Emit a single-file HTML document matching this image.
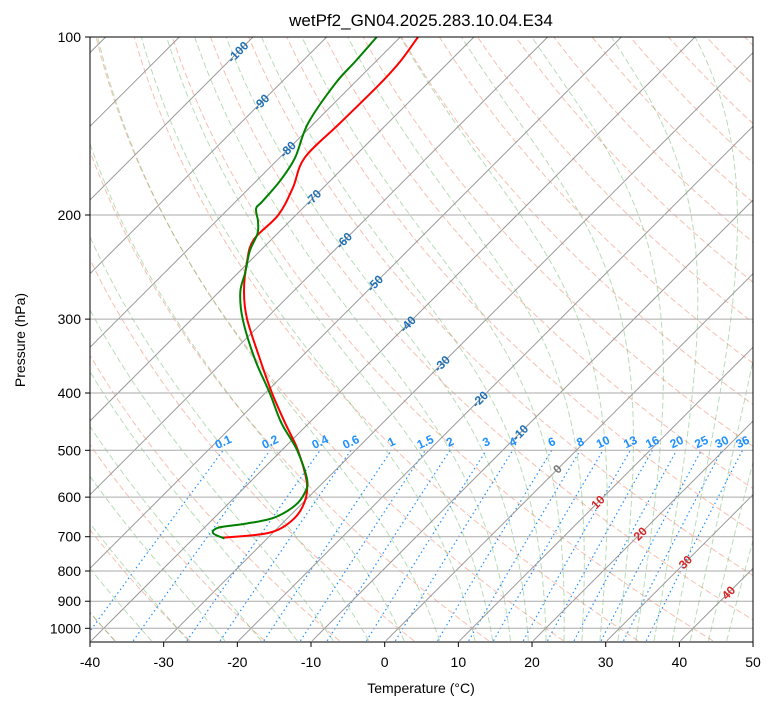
<!DOCTYPE html>
<html><head><meta charset="utf-8"><style>
body{margin:0;background:#fff;}
svg text{font-family:"Liberation Sans","DejaVu Sans",sans-serif;}
</style></head><body>
<svg id="chart" width="775" height="708" viewBox="0 0 775 708" xmlns="http://www.w3.org/2000/svg">
<defs><clipPath id="plotclip"><rect x="90" y="37" width="663" height="605"/></clipPath></defs>
<text x="421" y="26" text-anchor="middle" font-size="17">wetPf2_GN04.2025.283.10.04.E34</text>
<g id="bg" clip-path="url(#plotclip)"></g>
<g id="series" clip-path="url(#plotclip)"></g>
<g id="labels"></g>
<rect x="90" y="37" width="663" height="605" fill="none" stroke="#000" stroke-width="1"/>
<g id="axes"></g>
<text x="421" y="693" text-anchor="middle" font-size="14">Temperature (°C)</text>
<text x="25" y="340" text-anchor="middle" font-size="14" transform="rotate(-90 25 340)">Pressure (hPa)</text>
</svg>
<script>
const tempP=[703,690,660,620,570,500,450,400,350,300,270,240,220,200,180,160,140,120,110,100];
const tempT=[-36.2,-30.6,-29.1,-29.6,-32,-37.8,-43.2,-49.1,-55.4,-62.5,-66.6,-70.3,-72.4,-72.4,-74.1,-76.6,-76.5,-76.4,-76.7,-77.6];
const dewP=[705,690,675,665,650,620,590,560,500,450,400,350,300,270,250,230,215,205,195,190,175,160,140,120,110,100];
const dewT=[-35.8,-38.1,-38.0,-34.8,-31.9,-30.7,-31.1,-32.6,-37.9,-43.7,-49.4,-56.1,-63.1,-67.1,-69.1,-71.4,-72.7,-74.3,-76.3,-76.4,-76.8,-77.9,-80.8,-82.5,-82.8,-83.2];
const xTicks=[-40,-30,-20,-10,0,10,20,30,40,50];
const pTicks=[100,200,300,400,500,600,700,800,900,1000];
const isoLabelT=[-100,-90,-80,-70,-60,-50,-40,-30,-20,-10,0,10,20,30,40];
const isoLabelP=[106,129,155,187,221,261,306,357,410,467,538,612,692,773,871];
const mixW=[0.1,0.2,0.4,0.6,1,1.5,2,3,4,6,8,10,13,16,20,25,30,36];
const dryT0=[-40,-30,-20,-10,0,10,20,30,40,50,60,70,80,90,100,110,120,130,140,150,160,170,180,190,200];
const moistT0=[-40,-35,-30,-25,-20,-15,-10,-5,0,5,10,12.5,15,17.5,20,22.5,25,27.5,30,32.5,35,37.5,40,42.5,45];

const NS='http://www.w3.org/2000/svg';
const yOf=p=>37+256.8*Math.log(p/100);
const xOf=(T,p)=>90+(T+40)*7.367+(642-yOf(p));
function mk(tag,attrs,parent){const e=document.createElementNS(NS,tag);for(const k in attrs)e.setAttribute(k,attrs[k]);parent.appendChild(e);return e;}
const bg=document.getElementById('bg'),ser=document.getElementById('series'),lab=document.getElementById('labels'),ax=document.getElementById('axes');
function pathFrom(pts){return pts.map((q,i)=>(i?'L':'M')+q[0].toFixed(1)+' '+q[1].toFixed(1)).join('');}
function smoothPath(pts){let d='M'+pts[0][0].toFixed(1)+' '+pts[0][1].toFixed(1);
 for(let i=0;i<pts.length-1;i++){const p0=pts[Math.max(0,i-1)],p1=pts[i],p2=pts[i+1],p3=pts[Math.min(pts.length-1,i+2)];
  const c1=[p1[0]+(p2[0]-p0[0])/6,p1[1]+(p2[1]-p0[1])/6],c2=[p2[0]-(p3[0]-p1[0])/6,p2[1]-(p3[1]-p1[1])/6];
  d+='C'+c1[0].toFixed(1)+' '+c1[1].toFixed(1)+' '+c2[0].toFixed(1)+' '+c2[1].toFixed(1)+' '+p2[0].toFixed(1)+' '+p2[1].toFixed(1);}
 return d;}

dryT0.forEach(t0=>{const pts=[];for(let p=1050;p>=100;p-=10){pts.push([xOf((t0+273.15)*Math.pow(p/1000,0.2857)-273.15,p),yOf(p)]);}
 const e=mk('path',{d:pathFrom(pts),fill:'none',stroke:'#f08060','stroke-opacity':'0.5','stroke-width':'1','stroke-dasharray':'6 3'},bg);
 
 });
function dTdp(T,p){const Tc=T-273.15;const es=6.112*Math.exp(17.67*Tc/(Tc+243.5));const rs=0.622*es/(p-es);
 return (287.04*T+2.501e6*rs)/(p*(1005.7+2.501e6*2.501e6*rs*0.622/(287.04*T*T)));}
moistT0.forEach(t0=>{let T=t0+273.15;const up=[];let p=1000;up.push([p,T]);
 while(p>100){const dp=-2;T+=dTdp(T,p)*dp;p+=dp;up.push([p,T]);}
 T=t0+273.15;p=1000;const dn=[];while(p<1050){const dp=2;T+=dTdp(T,p)*dp;p+=dp;dn.push([p,T]);}
 const all=dn.reverse().concat(up);const pts=all.map(a=>[xOf(a[1]-273.15,a[0]),yOf(a[0])]);
 const e=mk('path',{d:pathFrom(pts),fill:'none',stroke:'#4aa84a','stroke-opacity':'0.4','stroke-width':'1','stroke-dasharray':'6 3'},bg);
 
 });
function tdOf(w,p){const e=w*p/(622+w);const l=Math.log(e/6.112);return 243.5*l/(17.67-l);}
mixW.forEach(w=>{const pts=[];for(let p=1050;p>=500;p-=10)pts.push([xOf(tdOf(w,p),p),yOf(p)]);
 const e=mk('path',{d:pathFrom(pts),fill:'none',stroke:'#1e90ff','stroke-width':'1.2','stroke-dasharray':'1.5 3'},bg);
 
 
 const x=xOf(tdOf(w,500),500);
 const t=mk('text',{x:x.toFixed(1),y:'446',fill:'#1e90ff','font-size':'12','font-weight':'bold','text-anchor':'middle',transform:'rotate(-25 '+x.toFixed(1)+' 442)'},lab);
 t.textContent=String(w);
 
 });
for(let T=-160;T<=50;T+=10){const e=mk('line',{x1:xOf(T,1050),y1:yOf(1050),x2:xOf(T,100),y2:yOf(100),stroke:'#999','stroke-width':'1'},bg);
 
 }
pTicks.forEach(p=>{const e=mk('line',{x1:90,x2:753,y1:yOf(p),y2:yOf(p),stroke:'#aaa','stroke-width':'1'},bg);
 
 });
isoLabelT.forEach((T,i)=>{const p=isoLabelP[i];const x=xOf(T,p),y=yOf(p);
 const col=T<0?'#1f6fb4':(T===0?'#777':'#d62728');
 const t=mk('text',{x:x.toFixed(1),y:(y+4).toFixed(1),fill:col,'font-size':'12','font-weight':'bold','text-anchor':'middle',transform:'rotate(-45 '+x.toFixed(1)+' '+y.toFixed(1)+')'},lab);
 t.textContent=String(T);
 
 });
const tp=mk('path',{d:smoothPath(tempP.map((p,i)=>[xOf(tempT[i],p),yOf(p)])),fill:'none',stroke:'#ff0000','stroke-width':'2','stroke-linejoin':'round'},ser);


const dp=mk('path',{d:smoothPath(dewP.map((p,i)=>[xOf(dewT[i],p),yOf(p)])),fill:'none',stroke:'#008000','stroke-width':'2','stroke-linejoin':'round'},ser);


xTicks.forEach(T=>{const x=90+(T+40)*7.367;
 mk('line',{x1:x,x2:x,y1:642,y2:647,stroke:'#000'},ax);
 const t=mk('text',{x:x,y:'667','font-size':'14','text-anchor':'middle'},ax);t.textContent=String(T);
 
 });
pTicks.forEach(p=>{const y=yOf(p);
 mk('line',{x1:85,x2:90,y1:y,y2:y,stroke:'#000'},ax);
 const t=mk('text',{x:'81',y:(y+5).toFixed(1),'font-size':'14','text-anchor':'end'},ax);t.textContent=String(p);
 
 });
</script>
</body></html>
